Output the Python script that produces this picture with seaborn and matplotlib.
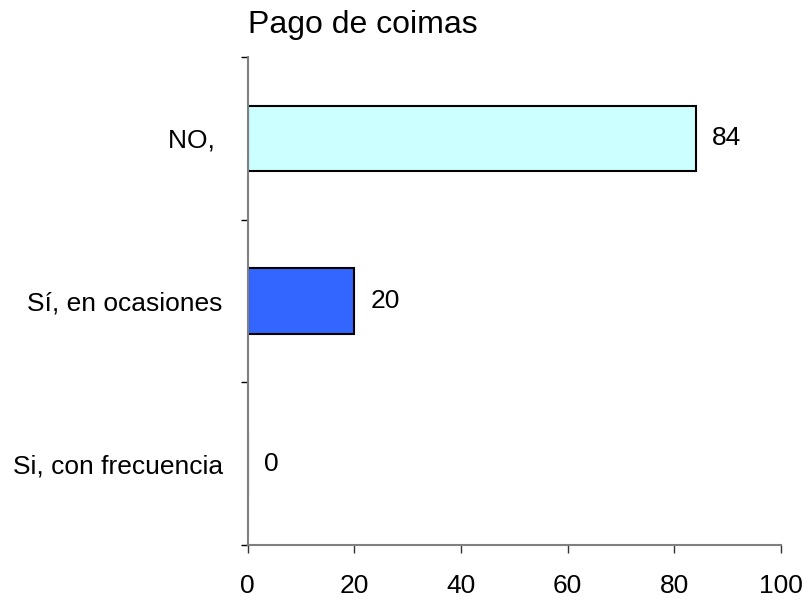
import numpy as np
import pandas as pd
import seaborn as sb
import matplotlib.pyplot as plt
from matplotlib.ticker import FixedLocator

categories = ['NO, ', 'Sí, en ocasiones', 'Si, con frecuencia']
values = [84, 20, 0]
colors = ['#CCFFFF', '#3366FF', '#FFFFFF']

data = pd.DataFrame({'respuesta': categories, 'valor': values})

sb.set_style('white')
plt.rcParams['font.family'] = ['Liberation Sans', 'DejaVu Sans']
plt.rcParams['text.color'] = 'black'
plt.rcParams['xtick.color'] = 'black'
plt.rcParams['ytick.color'] = 'black'

fig, ax = plt.subplots(figsize=(8.11, 6.0), dpi=100)
fig.subplots_adjust(left=0.3054, right=0.963, top=0.905, bottom=0.0917)

sb.barplot(data=data, x='valor', y='respuesta', hue='respuesta', palette=colors, saturation=1,
           orient='h', width=0.4, edgecolor='black', linewidth=1.5, legend=False, ax=ax)

# etiquetas de valores
for cont in ax.containers:
    ax.bar_label(cont, fmt='%d', padding=12, fontsize=19, color='black')

ax.set_xlim(0, 100)
ax.set_ylim(2.5, -0.5)
ax.set_xticks(np.arange(0, 101, 20))
ax.yaxis.set_minor_locator(FixedLocator([-0.5, 0.5, 1.5, 2.5]))
ax.tick_params(axis='y', which='major', length=0, pad=18, labelsize=19, labelcolor='black')
ax.tick_params(axis='y', which='minor', length=5, width=1, color='black', direction='out', left=True)
ax.tick_params(axis='x', which='major', length=6, width=1, color='#333333', direction='out', bottom=True,
               pad=15, labelsize=19, labelcolor='black')

for s in ['top', 'right']:
    ax.spines[s].set_visible(False)
for s in ['left', 'bottom']:
    ax.spines[s].set_color('#808080')
    ax.spines[s].set_linewidth(1.5)

ax.set_xlabel('')
ax.set_ylabel('')
ax.set_title('Pago de coimas', loc='left', fontsize=23, pad=17, color='black')

fig.savefig('out.png', dpi=100)
